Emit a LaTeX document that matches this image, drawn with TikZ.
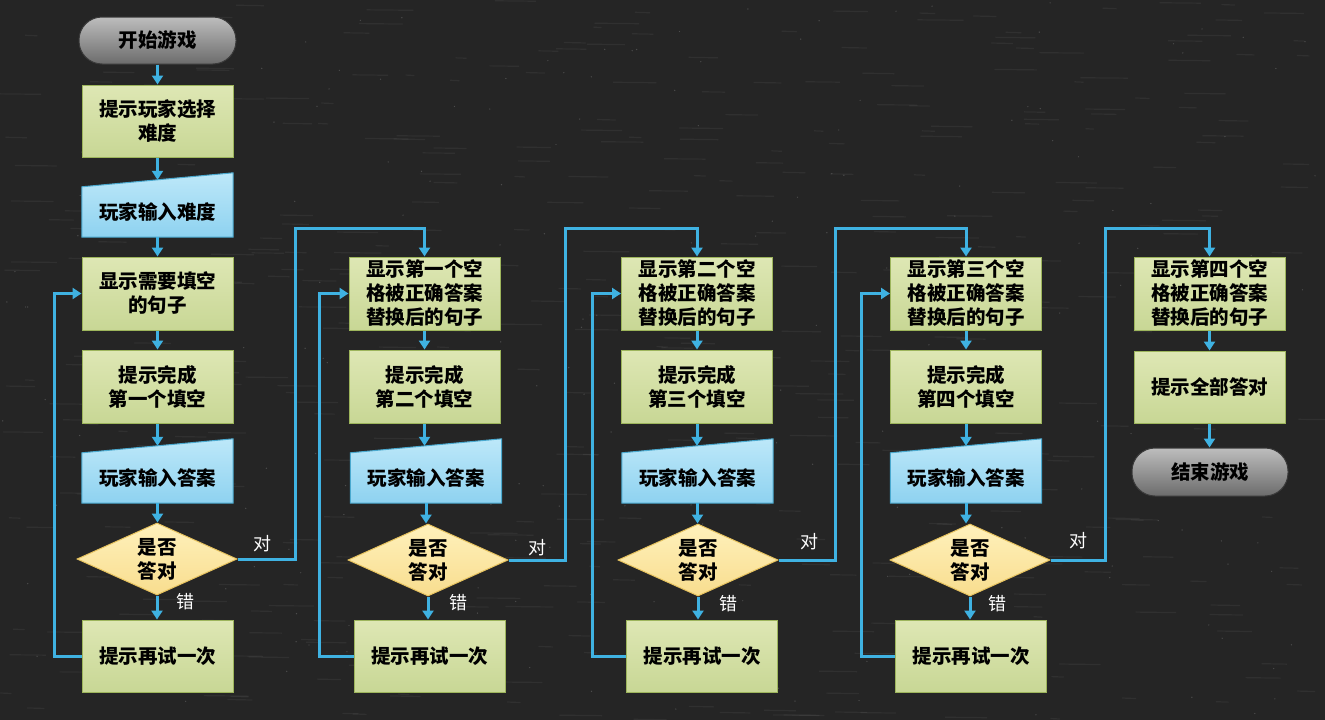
\documentclass[tikz,border=0pt]{standalone}
\usepackage{fontspec}
\setmainfont{Noto Sans CJK SC}
\usetikzlibrary{arrows.meta,shapes.geometric,backgrounds}
\definecolor{board}{HTML}{252525}
\definecolor{gT}{HTML}{DEE7B4}
\definecolor{gB}{HTML}{C8D795}
\definecolor{gD}{HTML}{9DB55C}
\definecolor{bT}{HTML}{BDE8F9}
\definecolor{bB}{HTML}{8ED2F0}
\definecolor{bD}{HTML}{4AA9CF}
\definecolor{yT}{HTML}{FFF1BC}
\definecolor{yB}{HTML}{F8DD8E}
\definecolor{yD}{HTML}{E6C25E}
\definecolor{sT}{HTML}{BDBDBD}
\definecolor{sB}{HTML}{6C6C6C}
\definecolor{sD}{HTML}{3A3A3A}
\definecolor{arr}{HTML}{3FB2E2}
\pgfdeclarelayer{board}
\pgfsetlayers{board,background,main}
\begin{document}
\begin{tikzpicture}[x=1pt,y=-1pt,
  txt/.style={font=\bfseries\fontsize{19.5}{24}\selectfont, text=black, align=center, inner sep=0pt},
  box/.style={txt, rectangle, draw=gD, line width=1pt, top color=gT, bottom color=gB, minimum width=151pt, minimum height=73pt},
  inbox/.style={txt, rectangle, minimum width=151pt, minimum height=50pt},
  inshape/.style={draw=bD, line width=1pt, top color=bT, bottom color=bB},
  decide/.style={txt, diamond, aspect=2.2, draw=yD, line width=1pt, top color=yT, bottom color=yB, minimum width=160pt, minimum height=72pt},
  term/.style={txt, rectangle, rounded corners=23pt, draw=sD, line width=1pt, top color=sT, bottom color=sB, minimum width=157pt, minimum height=47pt},
  flow/.style={draw=arr, line width=3pt, -{Triangle[width=11pt,length=9pt]}},
  lab/.style={font=\fontsize{18}{20}\selectfont, text=white, inner sep=0pt}
]
\useasboundingbox (0,0) rectangle (1325,720);
\begin{pgfonlayer}{board}
\begin{scope}
\clip (0,0) rectangle (1325,720);
\fill[board] (0,0) rectangle (1325,720);
\pgfmathsetseed{7}
\foreach \k in {1,...,500}{
  \pgfmathsetmacro{\xx}{rnd*1300}
  \pgfmathsetmacro{\yy}{rnd*720}
  \pgfmathsetmacro{\ll}{8+rnd*40}
  \draw[white, opacity=0.05, line width=1.2pt] (\xx,\yy) -- ++(\ll,0.5);
}
\foreach \k in {1,...,250}{
  \pgfmathsetmacro{\xx}{rnd*1320}
  \pgfmathsetmacro{\yy}{rnd*715}
  \fill[white, opacity=0.18] (\xx,\yy) circle (0.7pt);
}
\end{scope}
\end{pgfonlayer}

% column 1
\node[term] (st) at (157.5,40.5) {开始游戏};
\node[box, minimum height=72pt] (a1) at (157.5,121) {提示玩家选择\\难度};
\node[inbox] (i1) at (157.5,212) {玩家输入难度};
\node[box] (s1) at (157.5,293.5) {显示需要填空\\的句子};
\node[box] (p1) at (157.5,386.5) {提示完成\\第一个填空};
\node[inbox] (i2) at (157.5,478) {玩家输入答案};
\node[decide] (d1) at (157,559) {是否\\答对};
\node[box, minimum height=72pt] (r1) at (157.5,656) {提示再试一次};

% column 2
\node[box] (s2) at (424.5,293.5) {显示第一个空\\格被正确答案\\替换后的句子};
\node[box] (p2) at (424.5,386.5) {提示完成\\第二个填空};
\node[inbox] (i3) at (426,478) {玩家输入答案};
\node[decide] (d2) at (428,560) {是否\\答对};
\node[box, minimum height=72pt] (r2) at (429.5,656) {提示再试一次};

% column 3
\node[box] (s3) at (697,293.5) {显示第二个空\\格被正确答案\\替换后的句子};
\node[box] (p3) at (697,386.5) {提示完成\\第三个填空};
\node[inbox] (i4) at (697.5,478) {玩家输入答案};
\node[decide] (d3) at (698,560) {是否\\答对};
\node[box, minimum height=72pt] (r3) at (702,656) {提示再试一次};

% column 4
\node[box] (s4) at (966,293.5) {显示第三个空\\格被正确答案\\替换后的句子};
\node[box] (p4) at (966,386.5) {提示完成\\第四个填空};
\node[inbox] (i5) at (966,478) {玩家输入答案};
\node[decide] (d4) at (970,560) {是否\\答对};
\node[box, minimum height=72pt] (r4) at (971,656) {提示再试一次};

% column 5
\node[box] (s5) at (1209.5,293.5) {显示第四个空\\格被正确答案\\替换后的句子};
\node[box, minimum height=72pt] (a5) at (1209.5,387) {提示全部答对};
\node[term, minimum width=156pt, minimum height=48pt] (en) at (1210,472) {结束游戏};

% manual input shapes
\begin{pgfonlayer}{background}
\foreach \n in {i1,i2,i3,i4,i5}{
  \path[inshape] (\n.south west) -- (\n.south east) -- ([yshift=14pt]\n.north east) -- (\n.north west) -- cycle;
}
\end{pgfonlayer}

% labels
\node[lab] (y1) at (262,544) {对};
\node[lab] (y2) at (537,548) {对};
\node[lab] (y3) at (809,542) {对};
\node[lab] (y4) at (1078,541) {对};
\node[lab] (n1) at (185,602) {错};
\node[lab] (n2) at (458,603) {错};
\node[lab] (n3) at (728,604) {错};
\node[lab] (n4) at (997,604) {错};

% vertical flow
\draw[flow] (st.south) -- (st.south |- a1.north);
\draw[flow] (a1.south) -- ([yshift=7pt]a1.south |- i1.north);
\draw[flow] (i1.south) -- (i1.south |- s1.north);
\draw[flow] (s1.south) -- (s1.south |- p1.north);
\draw[flow] (p1.south) -- ([yshift=7pt]p1.south |- i2.north);
\draw[flow] (i2.south) -- (i2.south |- d1.north);
\draw[flow] (d1.south) -- (d1.south |- r1.north);

\draw[flow] (s2.south) -- (s2.south |- p2.north);
\draw[flow] (p2.south) -- ([yshift=7pt]p2.south |- i3.north);
\draw[flow] (i3.south) -- (i3.south |- d2.north);
\draw[flow] (d2.south) -- (d2.south |- r2.north);

\draw[flow] (s3.south) -- (s3.south |- p3.north);
\draw[flow] (p3.south) -- ([yshift=7pt]p3.south |- i4.north);
\draw[flow] (i4.south) -- (i4.south |- d3.north);
\draw[flow] (d3.south) -- (d3.south |- r3.north);

\draw[flow] (s4.south) -- (s4.south |- p4.north);
\draw[flow] (p4.south) -- ([yshift=7pt]p4.south |- i5.north);
\draw[flow] (i5.south) -- (i5.south |- d4.north);
\draw[flow] (d4.south) -- (d4.south |- r4.north);

\draw[flow] (s5.south) -- (s5.south |- a5.north);
\draw[flow] (a5.south) -- (a5.south |- en.north);

% retry loops
\draw[flow] (r1.west) -- ++(-27,0) |- (s1.west);
\draw[flow] (r2.west) -- ++(-34,0) |- (s2.west);
\draw[flow] (r3.west) -- ++(-34,0) |- (s3.west);
\draw[flow] (r4.west) -- ++(-34,0) |- (s4.west);

% correct paths
\coordinate (k1) at (295,228);
\coordinate (k2) at (565,228);
\coordinate (k3) at (835,228);
\coordinate (k4) at (1105,228);
\draw[flow] (d1.east) -| (k1) -| (s2.north);
\draw[flow] (d2.east) -| (k2) -| (s3.north);
\draw[flow] (d3.east) -| (k3) -| (s4.north);
\draw[flow] (d4.east) -| (k4) -| (s5.north);
\end{tikzpicture}
\end{document}
